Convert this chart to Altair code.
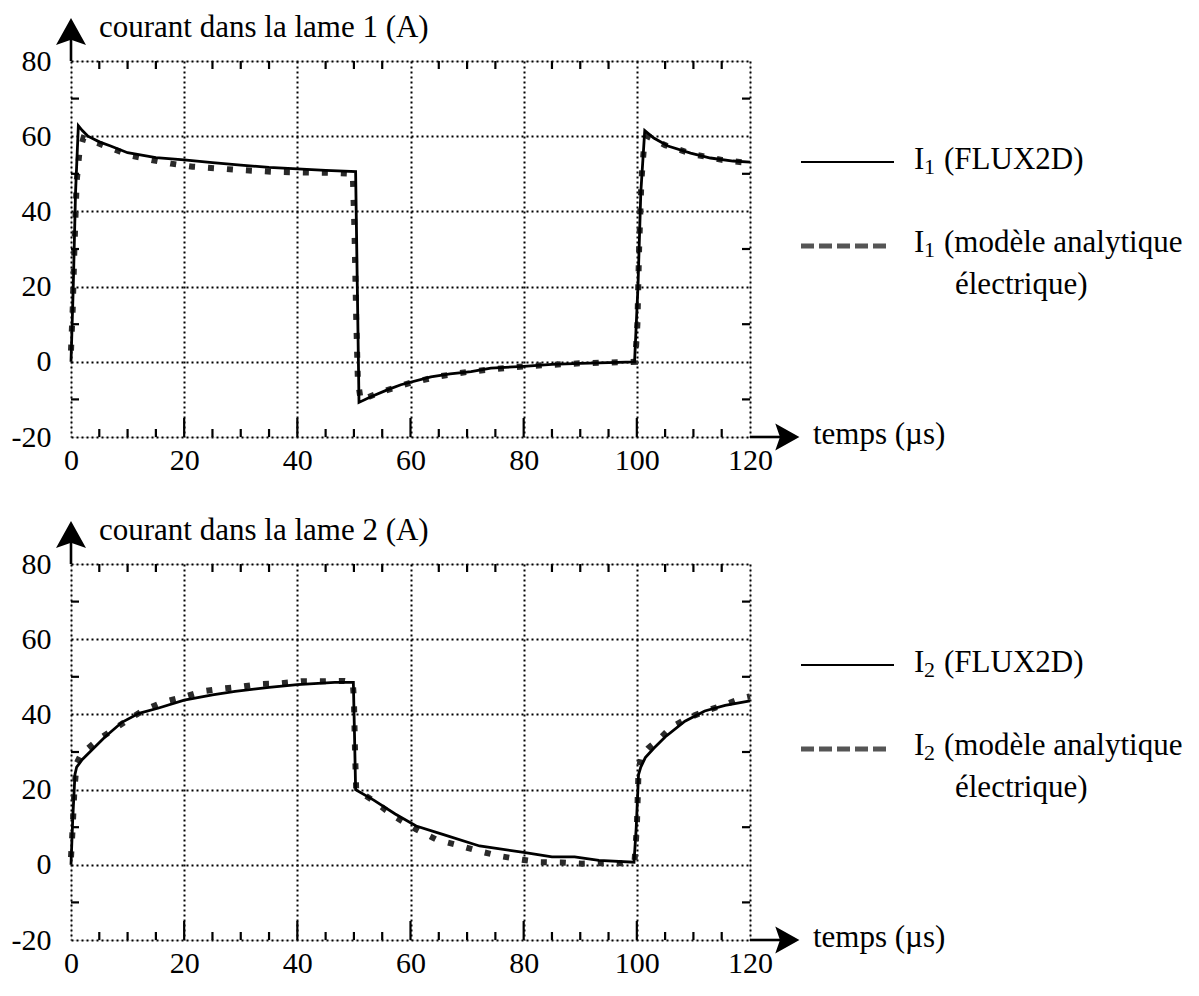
import altair as alt
import pandas as pd

# ---------------- data ----------------
t1_flux = [0, 0.4, 0.8, 1.3, 2, 3, 5, 7, 10, 15, 20, 25, 30, 35, 40, 45, 50.3, 50.6, 50.9,
           53, 56, 58.3, 63.6, 67, 70.7, 74.2, 80, 85, 90, 95, 99.6, 100.2, 100.7, 101.4,
           103, 105.5, 109.5, 113, 117, 120]
i1_flux = [0, 20, 45, 62.8, 61.5, 60, 58.5, 57.4, 55.6, 54.3, 53.7, 53, 52.3, 51.7, 51.3, 50.9, 50.6, 20, -10.8,
           -9.3, -7.4, -6.1, -4, -3.2, -2.6, -1.7, -1.2, -0.7, -0.4, -0.2, 0, 20, 45, 61.5,
           59.5, 57.4, 55.5, 54.2, 53.4, 53.1]

t1_model = [0, 0.3, 0.6, 1, 1.5, 2.2, 3.5, 5, 6.7, 8.5, 10.6, 14.5, 17.7, 21.5, 25.3, 28.8, 32.4, 36.2,
            39.8, 43.6, 47.3, 49.8, 50.1, 50.4, 50.7, 51.2, 55, 60, 65, 70, 75, 80, 85, 90, 95, 99.7,
            100.1, 100.4, 100.8, 101.3, 102, 105, 110, 115, 120]
i1_model = [3, 14, 30, 48, 56, 59.5, 58.8, 58, 57, 56, 54.8, 53.6, 52.7, 51.9, 51.5, 51.1, 50.8, 50.5,
            50.4, 50.3, 50.2, 50, 35, 12, -5, -10.2, -7.9, -5.6, -3.9, -2.7, -1.9, -1.2, -0.8, -0.4, -0.2, 0,
            10, 30, 48, 58, 60, 57.6, 55.2, 53.7, 52.8]

t2_flux = [0, 0.3, 0.7, 1, 2, 4, 6, 9, 12, 15.5, 20, 25, 29, 35, 40, 46.6, 49.9, 50.1, 50.3,
           53.5, 57.3, 61, 65.7, 72.2, 80, 85, 89, 93.3, 99.5, 99.9, 100.3, 100.7, 101.5, 103,
           105, 108.5, 112, 115.6, 120]
i2_flux = [0, 12, 24, 26, 28, 31, 34, 37.9, 40.3, 41.7, 43.8, 45.2, 46.1, 47.2, 47.9, 48.5, 48.5, 35, 20,
           17.2, 13.5, 10.3, 8.1, 5, 3.3, 2.1, 2.1, 1.2, 0.7, 10, 24, 26, 28.5, 31,
           34, 38.2, 40.9, 42.4, 43.6]

t2_model = [0, 0.3, 0.6, 1, 2, 3, 5, 7, 10, 12.6, 16.1, 20, 23.1, 26.4, 30.2, 33.6, 37.2, 40.7, 44.5,
            48.3, 49.8, 50, 50.2, 50.4, 53.5, 57, 61, 64.6, 68.2, 71.7, 75.5, 79, 82.9, 86.7, 90.3,
            93.8, 97.4, 99.6, 100, 100.3, 100.8, 102, 104, 106, 109, 112.3, 115.6, 118.5, 120]
i2_model = [2, 10, 20, 27, 30, 31, 33.5, 35.5, 38.5, 40.9, 43.2, 44.7, 46.1, 46.8, 47.4, 48.1, 48.3, 48.8, 48.8,
            48.9, 48.5, 44, 30, 20, 17, 13, 9.4, 6.7, 5.3, 3.8, 2.4, 1.5, 0.7, 0.6, 0.3,
            0.4, 0.4, 1, 10, 25, 29, 31, 33.5, 36.5, 39, 41, 42.6, 44.3, 44.8]

x_labels = [0, 20, 40, 60, 80, 100, 120]
y_labels = [-20, 0, 20, 40, 60, 80]
x_minor = [5, 10, 15, 25, 30, 35, 45, 50, 55, 65, 70, 75, 85, 90, 95, 105, 110, 115]
x_major = [20, 40, 60, 80, 100]
y_minor = [-10, 10, 30, 50, 70]

# ---------------- styling ----------------
W, H = 679, 376
FONT = "Liberation Serif"
FS = 31        # titles / legend text
AXFS = 30      # tick labels
SUB_FS = 22
UP_ARROW = "M0,-1L1,0.8L0,0.45L-1,0.8Z"
RIGHT_ARROW = "M1,0L-0.8,-1L-0.45,0L-0.8,1Z"

xs = alt.Scale(domain=[0, 120], nice=False, zero=False)
ys = alt.Scale(domain=[-20, 80], nice=False, zero=False)
x_axis = alt.Axis(values=x_labels, title=None, domain=False, ticks=False, grid=True,
                  gridDash=[2, 3], gridColor="black", gridWidth=2, gridOpacity=1,
                  labelFont=FONT, labelFontSize=AXFS, labelColor="black", labelPadding=8,
                  labelFlush=False, labelOverlap=False, labelExpr="'' + datum.value")
y_axis = alt.Axis(values=y_labels, title=None, domain=False, ticks=False, grid=True,
                  gridDash=[2, 3], gridColor="black", gridWidth=2, gridOpacity=1,
                  labelFont=FONT, labelFontSize=AXFS, labelColor="black", labelPadding=20,
                  labelOverlap=False, labelExpr="'' + datum.value")


def X(field):
    return alt.X(field, type="quantitative", scale=xs, axis=x_axis)


def Y(field):
    return alt.Y(field, type="quantitative", scale=ys, axis=y_axis)


one = pd.DataFrame({"d": [0]})


def txt(s, x, y, align="left", baseline="middle", size=FS):
    return alt.Chart(one).mark_text(text=s, font=FONT, fontSize=size, color="black",
                                    align=align, baseline=baseline).encode(
        x=alt.value(x), y=alt.value(y))


def legend_label(sub, rest, x, y):
    return [txt("I", x, y),
            txt(sub, x + 10, y + 7, size=SUB_FS),
            txt(rest, x + 30, y)]


def panel(tf, vf, tm, vm, title, sub):
    flux = pd.DataFrame({"t": tf, "i": vf})
    model = pd.DataFrame({"t": tm, "i": vm})

    model_line = alt.Chart(model).mark_line(color="#2a2a2a", strokeWidth=6,
                                            strokeDash=[6, 13], strokeCap="butt").encode(
        x=X("t"), y=Y("i"), order="t:Q")
    flux_line = alt.Chart(flux).mark_line(color="black", strokeWidth=2.8).encode(
        x=X("t"), y=Y("i"), order="t:Q")

    xm = pd.DataFrame({"v": x_minor})
    xM = pd.DataFrame({"v": x_major})
    ym = pd.DataFrame({"v": y_minor})
    tick_w = 2.2
    bot_minor = alt.Chart(xm).mark_rule(color="black", strokeWidth=tick_w).encode(
        x=X("v"), y=alt.value(H), y2=alt.value(H - 8))
    bot_major = alt.Chart(xM).mark_rule(color="black", strokeWidth=tick_w).encode(
        x=X("v"), y=alt.value(H), y2=alt.value(H - 19))
    top_ticks = alt.Chart(xm).mark_rule(color="black", strokeWidth=tick_w).encode(
        x=X("v"), y=alt.value(0), y2=alt.value(8))
    left_ticks = alt.Chart(ym).mark_rule(color="black", strokeWidth=tick_w).encode(
        y=Y("v"), x=alt.value(0), x2=alt.value(8))
    right_ticks = alt.Chart(ym).mark_rule(color="black", strokeWidth=tick_w).encode(
        y=Y("v"), x=alt.value(W), x2=alt.value(W - 8))

    y_ext = alt.Chart(one).mark_rule(color="black", strokeWidth=2.6).encode(
        x=alt.value(0), y=alt.value(0), y2=alt.value(-24))
    x_ext = alt.Chart(one).mark_rule(color="black", strokeWidth=2.6).encode(
        y=alt.value(H), x=alt.value(W), x2=alt.value(W + 30))
    up = alt.Chart(one).mark_point(shape=UP_ARROW, filled=True, size=900, color="black",
                                   opacity=1).encode(x=alt.value(0), y=alt.value(-28))
    right = alt.Chart(one).mark_point(shape=RIGHT_ARROW, filled=True, size=720, color="black",
                                      opacity=1).encode(x=alt.value(W + 36), y=alt.value(H))

    leg_solid = alt.Chart(one).mark_rule(color="black", strokeWidth=2.2).encode(
        x=alt.value(730), x2=alt.value(823), y=alt.value(101))
    leg_dash = alt.Chart(one).mark_rule(color="#555555", strokeWidth=5, strokeDash=[13, 5]).encode(
        x=alt.value(730), x2=alt.value(818), y=alt.value(185))

    layers = [model_line, flux_line, bot_minor, bot_major, top_ticks, left_ticks, right_ticks,
              y_ext, x_ext, up, right, leg_solid, leg_dash,
              txt(title, 28, -33),
              txt("temps (µs)", 742, H - 2),
              *legend_label(sub, "(FLUX2D)", 843, 99),
              *legend_label(sub, "(modèle analytique", 843, 182),
              txt("électrique)", 884, 224)]
    return alt.layer(*layers).properties(width=W, height=H)


p1 = panel(t1_flux, i1_flux, t1_model, i1_model, "courant dans la lame 1 (A)", "1")
p2 = panel(t2_flux, i2_flux, t2_model, i2_model, "courant dans la lame 2 (A)", "2")

chart = alt.vconcat(p1, p2, spacing=38).properties(
    padding={"left": 2, "top": 3, "right": 0, "bottom": 0}
).configure_view(stroke="black", strokeWidth=2.6).configure(background="white")

chart.save("out.html", embed_options={"renderer": "svg", "actions": False})
